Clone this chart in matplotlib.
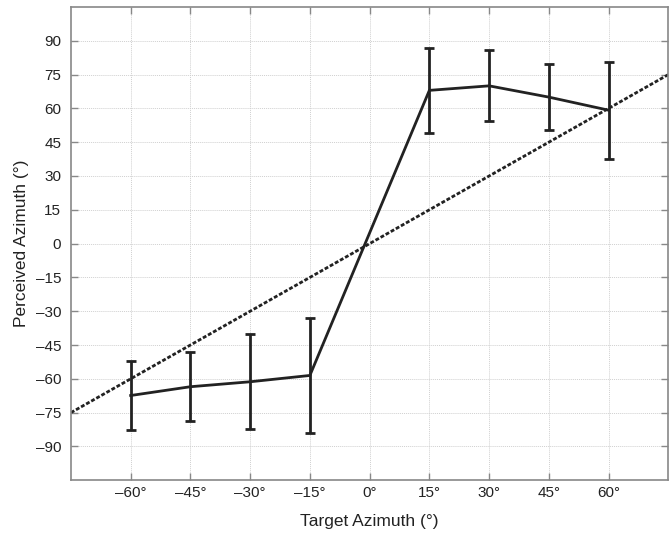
import matplotlib
matplotlib.use("Agg")
import matplotlib.pyplot as plt

plt.rcParams['font.family'] = ['Liberation Sans', 'DejaVu Sans']

target = [-60, -45, -30, -15, 15, 30, 45, 60]
perceived = [-67.4, -63.5, -61.3, -58.5, 68.0, 70.0, 65.0, 59.2]
err = [15.1, 15.3, 21.0, 25.5, 18.8, 15.7, 14.7, 21.6]

ref_x = [-75, 75]
xticks = [-60, -45, -30, -15, 0, 15, 30, 45, 60]
yticks = list(range(-90, 91, 15))

fig = plt.figure(figsize=(6.69, 5.36), dpi=100)
ax = fig.add_axes([0.106, 0.104, 0.893, 0.883])

ax.plot(ref_x, ref_x, color='#222222', lw=2.0, linestyle=(0, (1.4, 0.7)))
ax.errorbar(target, perceived, yerr=err, color='#222222', lw=2.0,
            elinewidth=2.0, capsize=3.3, capthick=2.0)

ax.set_xlim(-75, 75)
ax.set_ylim(-105, 105)
ax.set_xticks(xticks)
ax.set_xticklabels(['\u2013%d\u00b0' % -v if v < 0 else '%d\u00b0' % v for v in xticks])
ax.set_yticks(yticks)
ax.set_yticklabels(['\u2013%d' % -v if v < 0 else '%d' % v for v in yticks])
ax.tick_params(direction='in', length=5, width=1, color='#888888', labelsize=11,
               top=True, right=True, labelcolor='#222222')
ax.tick_params(axis='x', pad=4)
ax.tick_params(axis='y', pad=7)
ax.grid(True, color='#d0d0d0', linestyle=(0, (1, 1)), linewidth=0.7)
for s in ax.spines.values():
    s.set_color('#888888')
    s.set_linewidth(1.2)

ax.set_xlabel('Target Azimuth (\u00b0)', fontsize=12.5, labelpad=10, color='#222222')
ax.set_ylabel('Perceived Azimuth (\u00b0)', fontsize=12.5, labelpad=5, color='#222222')

fig.savefig('out.png', dpi=100)
